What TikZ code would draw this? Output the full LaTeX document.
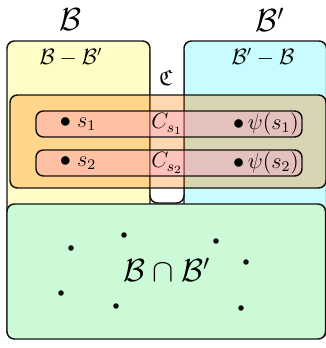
\documentclass[tikz,border=0pt]{standalone}
\usepackage{amsmath,amssymb}
\definecolor{ink}{HTML}{111111}
\definecolor{lemon}{HTML}{FFFCC8}
\definecolor{sky}{HTML}{C8FCFF}
\definecolor{mint}{HTML}{CCFAD6}
\definecolor{peach}{HTML}{FF8000}
\definecolor{rosy}{HTML}{FF9AD4}
\begin{document}
\begin{tikzpicture}[x=0.019cm,y=-0.019cm,line width=0.8pt,draw=ink,
  setbox/.style={draw=ink,rounded corners=4pt},
  dot/.style={circle,fill=ink,inner sep=0pt,minimum size=3pt}]
  \useasboundingbox (0,0) rectangle (326,348);

  % the two bases
  \draw[setbox,fill=lemon] (7,41) rectangle (150,338);
  \draw[setbox,fill=sky] (184,41) rectangle (326.5,338);
  \draw[rounded corners=4pt,fill=white] (150,50) -- (150,203) -- (184,203) -- (184,50);

  \node[font=\LARGE,inner sep=0pt] (lB) at (70,20) {$\mathcal{B}$};
  \node[font=\LARGE,inner sep=0pt] (lBp) at (270,20) {$\mathcal{B}'$};
  \node[font=\large] (lBmBp) at (71,57) {$\mathcal{B}-\mathcal{B}'$};
  \node[font=\large] (lBpmB) at (263,57) {$\mathcal{B}'-\mathcal{B}$};
  \node[font=\large] (lC) at (166,78) {$\mathfrak{C}$};

  % the circuits
  \draw[setbox,fill=peach,fill opacity=0.3] (10,95) rectangle (326,188);
  \draw[setbox,fill=rosy,fill opacity=0.35] (36,111) rectangle (302,137);
  \draw[setbox,fill=rosy,fill opacity=0.35] (36,150) rectangle (302,176);

  \node[font=\large] (s1) at (78,124) {$\bullet\; s_1$};
  \node[font=\large] (s2) at (78,163) {$\bullet\; s_2$};
  \node[font=\large] (c1) at (167,124) {$C_{s_1}$};
  \node[font=\large] (c2) at (167,163) {$C_{s_2}$};
  \node[font=\large] (ps1) at (266,124) {$\bullet\,\psi(s_1)$};
  \node[font=\large] (ps2) at (266,163) {$\bullet\,\psi(s_2)$};

  % the common part
  \draw[setbox,fill=mint] (7,204) rectangle (325.5,339);
  \node[font=\LARGE] (lcap) at (167,270) {$\mathcal{B}\cap\mathcal{B}'$};
  \node[dot] (p1) at (71,248) {};
  \node[dot] (p2) at (124,235) {};
  \node[dot] (p3) at (216,241) {};
  \node[dot] (p4) at (246,262) {};
  \node[dot] (p5) at (61,293) {};
  \node[dot] (p6) at (116,306) {};
  \node[dot] (p7) at (241,308) {};
\end{tikzpicture}
\end{document}
